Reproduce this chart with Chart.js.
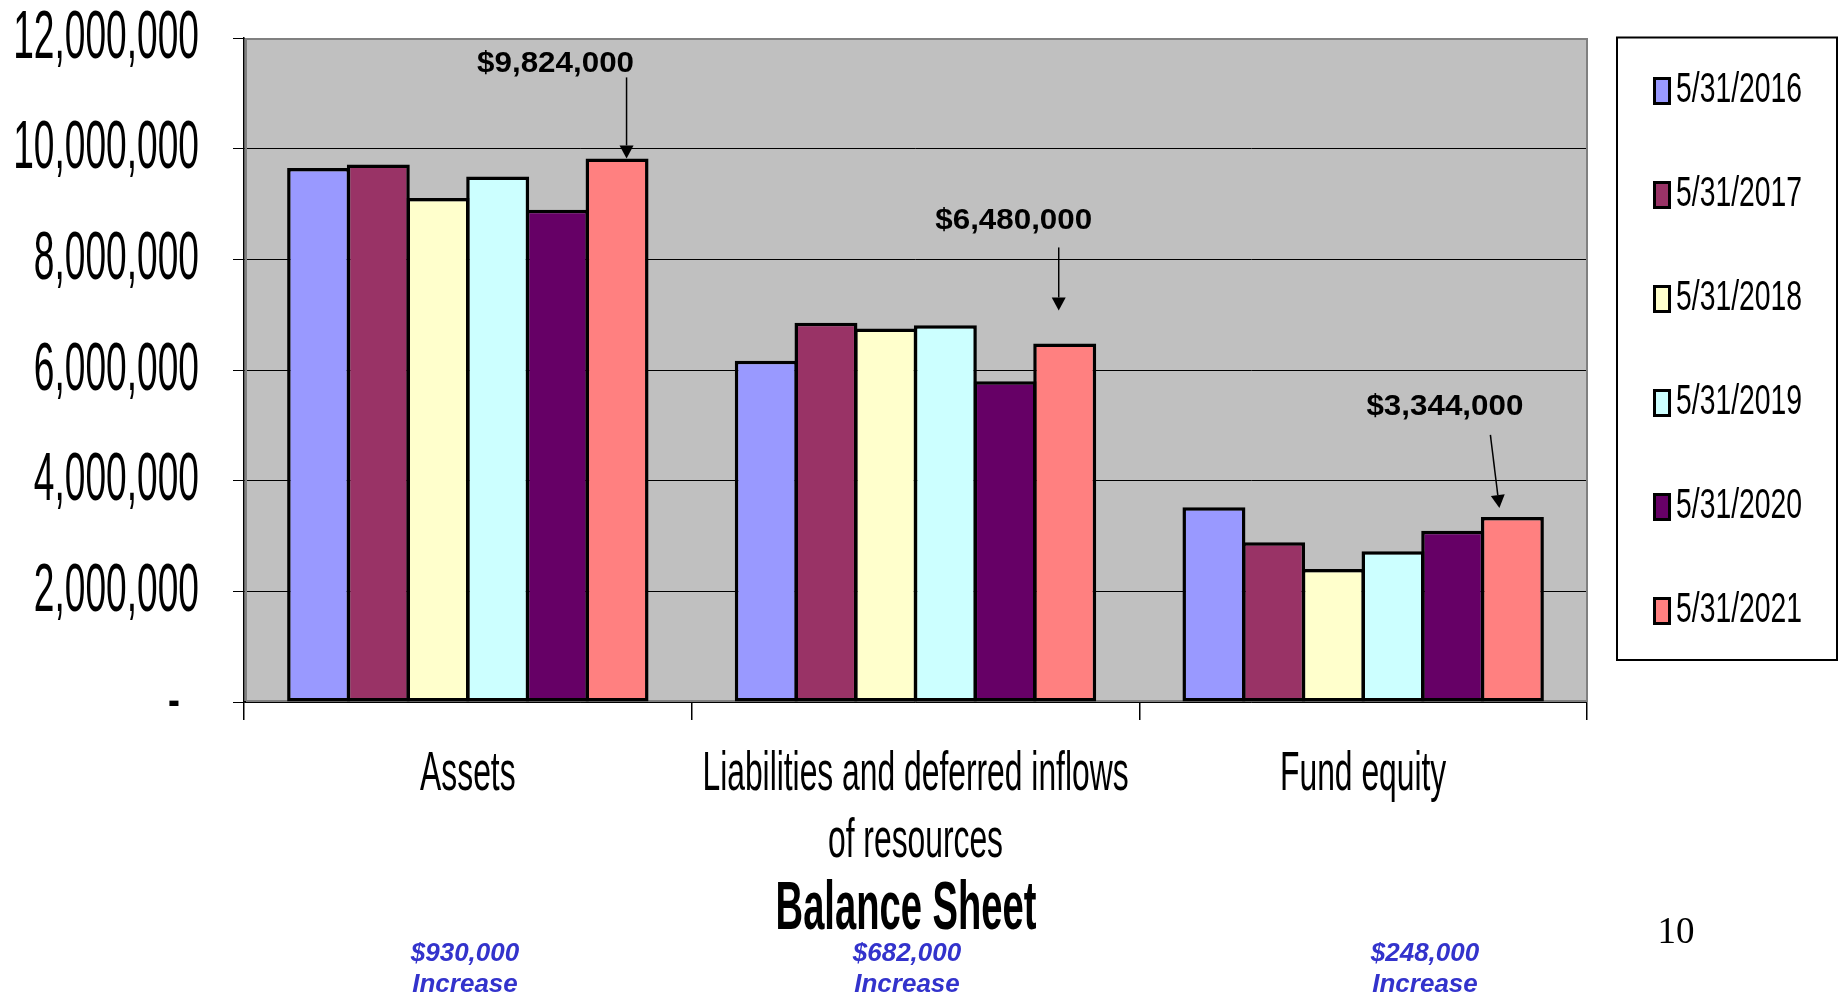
<!DOCTYPE html>
<html>
<head>
<meta charset="utf-8">
<script src="https://cdn.jsdelivr.net/npm/chart.js@4.4.1/dist/chart.umd.min.js"></script>
<style>
html,body{margin:0;padding:0;background:#fff;}
canvas{display:block;}
</style>
</head>
<body>
<canvas id="c" width="1839" height="997"></canvas>
<script>
// ---- DATA ----
const categories = ['Assets', ['Liabilities and deferred inflows', 'of resources'], 'Fund equity'];
const seriesLabels = ['5/31/2016', '5/31/2017', '5/31/2018', '5/31/2019', '5/31/2020', '5/31/2021'];
const v2016 = [9652000, 6167000, 3521000];
const v2017 = [9712000, 6855000, 2888000];
const v2018 = [9110000, 6752000, 2405000];
const v2019 = [9495000, 6807000, 2725000];
const v2020 = [8894000, 5798000, 3096000];
const v2021 = [9824000, 6480000, 3344000];
const yTickValues = [0, 2000000, 4000000, 6000000, 8000000, 10000000, 12000000];
const yTickLabels = ['-', '2,000,000', '4,000,000', '6,000,000', '8,000,000', '10,000,000', '12,000,000'];
const calloutLabels = ['$9,824,000', '$6,480,000', '$3,344,000'];
const changeAmounts = ['$930,000', '$682,000', '$248,000'];
const changeWords = ['Increase', 'Increase', 'Increase'];
const chartTitle = 'Balance Sheet';
const pageNumber = '10';

// ---- STYLE ----
const seriesColors = ['#9999FF', '#993366', '#FFFFCC', '#CCFFFF', '#660066', '#FF8080'];
const calloutOffsets = [
  {ldx: -61.5, ldy: -86, ax0: 9.5, ay0: -81, ax1: 9.5, ay1: 0},
  {ldx: -51, ldy: -114, ax0: -6, ay0: -96, ax1: -6, ay1: -33},
  {ldx: -67.5, ldy: -102, ax0: -22, ay0: -82, ax1: -13, ay1: -9}
];
const changeX = [465, 907, 1425];

function txt(ctx, s, x, y, font, sx, align, baseline, color) {
  ctx.save();
  ctx.font = font;
  ctx.fillStyle = color || '#000';
  ctx.textAlign = align;
  ctx.textBaseline = baseline;
  ctx.translate(x, y);
  ctx.scale(sx, 1);
  ctx.fillText(s, 0, 0);
  ctx.restore();
}

const plotBg = {
  id: 'plotBg',
  beforeDraw(chart) {
    const {ctx, chartArea: a} = chart;
    ctx.save();
    ctx.fillStyle = '#C0C0C0';
    ctx.fillRect(a.left, a.top, a.right - a.left, a.bottom - a.top);
    ctx.restore();
  },
  beforeDatasetsDraw(chart) {
    const {ctx, chartArea: a} = chart;
    ctx.save();
    ctx.strokeStyle = '#808080';
    ctx.lineWidth = 2;
    ctx.beginPath();
    ctx.moveTo(a.left + 2, a.bottom - 1);
    ctx.lineTo(a.left + 2, a.top + 1);
    ctx.lineTo(a.right, a.top + 1);
    ctx.lineTo(a.right, a.bottom - 1);
    ctx.lineTo(a.left + 2, a.bottom - 1);
    ctx.stroke();
    ctx.restore();
  }
};

const texts = {
  id: 'texts',
  afterDraw(chart) {
    const ctx = chart.ctx;
    const ys = chart.scales.y, xs = chart.scales.x, a = chart.chartArea;
    // y tick labels
    yTickValues.forEach((v, i) => {
      const py = ys.getPixelForValue(v);
      const lab = yTickLabels[i];
      const rx = lab === '-' ? a.left - 64 : a.left - 45;
      txt(ctx, lab, rx, py + 1, '68px "Liberation Sans"', 0.546, 'right', 'middle');
    });
    // category labels
    categories.forEach((c, i) => {
      const cx = xs.getPixelForValue(i);
      const lines = Array.isArray(c) ? c : [c];
      lines.forEach((ln, j) => {
        txt(ctx, ln, cx, a.bottom + 88 + j * 67, '56px "Liberation Sans"', 0.568, 'center', 'alphabetic');
      });
    });
    // title
    txt(ctx, chartTitle, 906, 929, 'bold 69px "Liberation Sans"', 0.553, 'center', 'alphabetic');
    // change notes
    changeAmounts.forEach((s, i) => {
      txt(ctx, s, changeX[i], 961, 'italic bold 26px "Liberation Sans"', 1.0, 'center', 'alphabetic', '#3333CC');
      txt(ctx, changeWords[i], changeX[i], 992, 'italic bold 26px "Liberation Sans"', 1.0, 'center', 'alphabetic', '#3333CC');
    });
    // page number
    txt(ctx, pageNumber, 1676, 943, '37px "Liberation Serif"', 1.0, 'center', 'alphabetic');
    // callouts
    const meta = chart.getDatasetMeta(seriesLabels.length - 1);
    calloutLabels.forEach((s, i) => {
      const el = meta.data[i];
      const o = calloutOffsets[i];
      txt(ctx, s, el.x + o.ldx, el.y + o.ldy, 'bold 30px "Liberation Sans"', 1.045, 'center', 'alphabetic');
      const x0 = el.x + o.ax0, y0 = el.y + o.ay0, x1 = el.x + o.ax1, y1 = el.y + o.ay1;
      const ang = Math.atan2(y1 - y0, x1 - x0);
      const hl = 13, hw = 7;
      ctx.save();
      ctx.strokeStyle = '#000';
      ctx.fillStyle = '#000';
      ctx.lineWidth = 1.5;
      ctx.beginPath();
      ctx.moveTo(x0, y0);
      ctx.lineTo(x1 - hl * Math.cos(ang), y1 - hl * Math.sin(ang));
      ctx.stroke();
      ctx.beginPath();
      ctx.moveTo(x1, y1);
      ctx.lineTo(x1 - hl * Math.cos(ang) + hw * Math.sin(ang), y1 - hl * Math.sin(ang) - hw * Math.cos(ang));
      ctx.lineTo(x1 - hl * Math.cos(ang) - hw * Math.sin(ang), y1 - hl * Math.sin(ang) + hw * Math.cos(ang));
      ctx.closePath();
      ctx.fill();
      ctx.restore();
    });
    // legend
    ctx.save();
    ctx.strokeStyle = '#000';
    ctx.lineWidth = 2;
    ctx.strokeRect(1617, 37.5, 220, 622.5);
    ctx.restore();
    seriesLabels.forEach((s, i) => {
      const cy = 90 + i * 104;
      ctx.save();
      ctx.fillStyle = seriesColors[i];
      ctx.fillRect(1653, cy - 13, 18, 28);
      ctx.strokeStyle = '#000';
      ctx.lineWidth = 3;
      ctx.strokeRect(1654.5, cy - 11.5, 15, 25);
      ctx.restore();
      txt(ctx, s, 1676, cy, '42px "Liberation Sans"', 0.675, 'left', 'middle');
    });
  }
};

const seriesValues = [v2016, v2017, v2018, v2019, v2020, v2021];
const chart = new Chart(document.getElementById('c'), {
  type: 'bar',
  data: {
    labels: categories,
    datasets: seriesLabels.map((lab, i) => ({
      label: lab,
      data: seriesValues[i],
      backgroundColor: seriesColors[i],
      borderColor: '#000',
      borderWidth: 3.5,
      borderSkipped: false,
      categoryPercentage: 0.8,
      barPercentage: 1.055
    }))
  },
  options: {
    responsive: false,
    animation: false,
    devicePixelRatio: 1,
    layout: {padding: {left: 0, top: 38, right: 252, bottom: 0}},
    plugins: {legend: {display: false}, tooltip: {enabled: false}, title: {display: false}},
    scales: {
      x: {
        offset: true,
        ticks: {display: false},
        grid: {display: true, offset: true, drawOnChartArea: false, drawTicks: true, tickLength: 18, color: '#000', lineWidth: 1.5},
        border: {display: true, color: '#000', width: 1.5},
        afterFit(scale) { scale.height = 295; }
      },
      y: {
        min: 0, max: 12000000,
        afterBuildTicks(scale) { scale.ticks = yTickValues.map(v => ({value: v})); },
        ticks: {display: false},
        grid: {display: true, color: '#000', lineWidth: 1, drawTicks: true, tickLength: 11},
        border: {display: true, color: '#000', width: 1.5},
        afterFit(scale) { scale.width = 244; }
      }
    }
  },
  plugins: [plotBg, texts]
});
</script>
</body>
</html>
